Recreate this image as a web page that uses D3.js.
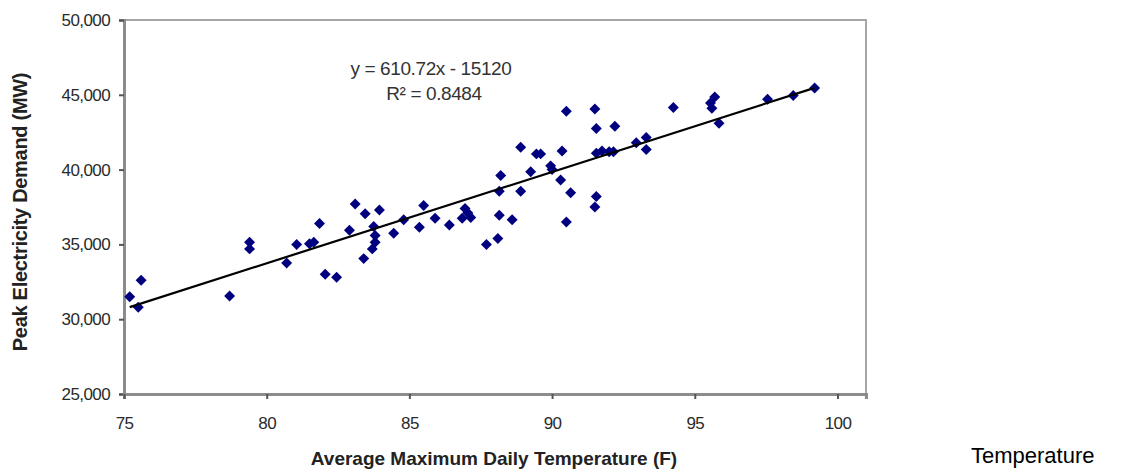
<!DOCTYPE html>
<html>
<head>
<meta charset="utf-8">
<script src="https://cdn.jsdelivr.net/npm/d3@7"></script>
<style>
  html, body { margin: 0; padding: 0; background: #fff; }
  svg { display: block; }
  text { font-family: "Liberation Sans", Arial, sans-serif; }
</style>
</head>
<body>
<svg id="chart" width="1122" height="471"></svg>
<script>
// ---- data ----
const temperature = [
  75.2, 75.5, 75.6, 78.7, 79.4, 79.4, 80.7, 81.05, 81.5, 81.65,
  81.85, 82.05, 82.45, 82.9, 83.1, 83.45, 83.95, 83.75, 83.8, 83.8,
  83.7, 83.4, 84.45, 84.8, 85.35, 85.5, 85.9, 86.4, 86.85, 86.95,
  87.15, 87.05, 87.7, 88.1, 88.15, 88.6, 88.15, 88.2, 88.9, 88.9,
  89.25, 89.45, 89.6, 89.95, 90.0, 90.3, 90.35, 90.65, 90.5, 90.5,
  91.5, 91.55, 92.2, 91.55, 91.5, 91.55, 91.75, 92.0, 92.15, 92.95,
  93.3, 93.3, 94.25, 95.7, 95.55, 95.6, 95.85, 97.55, 98.45, 99.2
];
const demandMW = [
  31500, 30800, 32600, 31550, 35150, 34700, 33750, 35000, 35050, 35150,
  36400, 33000, 32800, 35950, 37700, 37050, 37300, 36200, 35600, 35150,
  34700, 34050, 35750, 36650, 36150, 37600, 36750, 36300, 36750, 37400,
  36800, 37100, 35000, 35400, 36950, 36650, 38550, 39600, 38550, 41500,
  39850, 41050, 41050, 40250, 40000, 39300, 41250, 38450, 43900, 36500,
  44050, 42750, 42900, 38200, 37500, 41100, 41250, 41200, 41200, 41800,
  42150, 41350, 44150, 44850, 44450, 44100, 43100, 44700, 44950, 45450
];
const xTicks = [75, 80, 85, 90, 95, 100];
const yTicks = [25000, 30000, 35000, 40000, 45000, 50000];
const trendSlope = 610.72;
const trendIntercept = -15120;
const equationLabel = "y = 610.72x - 15120";
const r2Label = "R² = 0.8484";
const xTitle = "Average Maximum Daily Temperature (F)";
const yTitle = "Peak Electricity Demand (MW)";
const sideLabel = "Temperature";

// ---- layout ----
const svg = d3.select("#chart");
const plot = { left: 124, right: 866, top: 20, bottom: 394 };

const x = d3.scaleLinear().domain([75, 101]).range([plot.left, plot.right]);
const y = d3.scaleLinear().domain([25000, 50000]).range([plot.bottom, plot.top]);

// plot frame
svg.append("rect")
  .attr("x", plot.left).attr("y", plot.top)
  .attr("width", plot.right - plot.left).attr("height", plot.bottom - plot.top)
  .attr("fill", "#fff").attr("stroke", "#a6a6a6").attr("stroke-width", 2);

const fmt = d3.format(",");

// y axis
const yAxis = svg.append("g")
  .attr("transform", `translate(${plot.left},0)`)
  .call(d3.axisLeft(y).tickValues(yTicks).tickFormat(fmt).tickSize(5).tickPadding(9));
yAxis.select(".domain").attr("stroke", "#8c8c8c").attr("stroke-width", 3);
yAxis.selectAll(".tick line").attr("stroke", "#555").attr("stroke-width", 2);
yAxis.selectAll(".tick text")
  .attr("font-size", 17).attr("fill", "#2a2a2a").attr("letter-spacing", -0.6);

// x axis
const xAxis = svg.append("g")
  .attr("transform", `translate(0,${plot.bottom})`)
  .call(d3.axisBottom(x).tickValues(xTicks).tickFormat(d3.format("d")).tickSize(5).tickPadding(18));
xAxis.select(".domain").attr("stroke", "#8c8c8c").attr("stroke-width", 3);
xAxis.selectAll(".tick line").attr("stroke", "#555").attr("stroke-width", 2);
xAxis.selectAll(".tick text")
  .attr("font-size", 17).attr("fill", "#2a2a2a").attr("letter-spacing", -0.6);

// axis titles
svg.append("text")
  .attr("transform", `translate(20,212) rotate(-90)`)
  .attr("text-anchor", "middle").attr("dominant-baseline", "central")
  .attr("font-size", 20).attr("font-weight", "bold").attr("fill", "#222")
  .attr("letter-spacing", -0.3)
  .text(yTitle);

svg.append("text")
  .attr("x", 494).attr("y", 465)
  .attr("text-anchor", "middle")
  .attr("font-size", 19).attr("font-weight", "bold").attr("fill", "#222")
  .attr("letter-spacing", 0)
  .text(xTitle);

// points (diamonds: squares rotated 45°)
const pts = temperature.map((t, i) => ({ t, d: demandMW[i] }));
svg.append("g").selectAll("path")
  .data(pts).join("path")
  .attr("d", d3.symbol(d3.symbolSquare, 60))
  .attr("transform", p => `translate(${x(p.t)},${y(p.d)}) rotate(45)`)
  .attr("fill", "#00007f");

// trendline across the data range
const tExt = d3.extent(temperature);
const line = d3.line().x(p => x(p[0])).y(p => y(p[1]));
svg.append("path")
  .datum(tExt.map(t => [t, trendSlope * t + trendIntercept]))
  .attr("d", line)
  .attr("fill", "none").attr("stroke", "#000").attr("stroke-width", 2.2);

// equation labels
svg.append("text")
  .attr("x", 431).attr("y", 75)
  .attr("text-anchor", "middle")
  .attr("font-size", 19).attr("fill", "#333").attr("letter-spacing", -0.4)
  .text(equationLabel);
svg.append("text")
  .attr("x", 434).attr("y", 100)
  .attr("text-anchor", "middle")
  .attr("font-size", 19).attr("fill", "#333").attr("letter-spacing", -0.4)
  .text(r2Label);

// side label
svg.append("text")
  .attr("x", 971).attr("y", 463)
  .attr("font-size", 22).attr("fill", "#000")
  .text(sideLabel);
</script>
</body>
</html>
